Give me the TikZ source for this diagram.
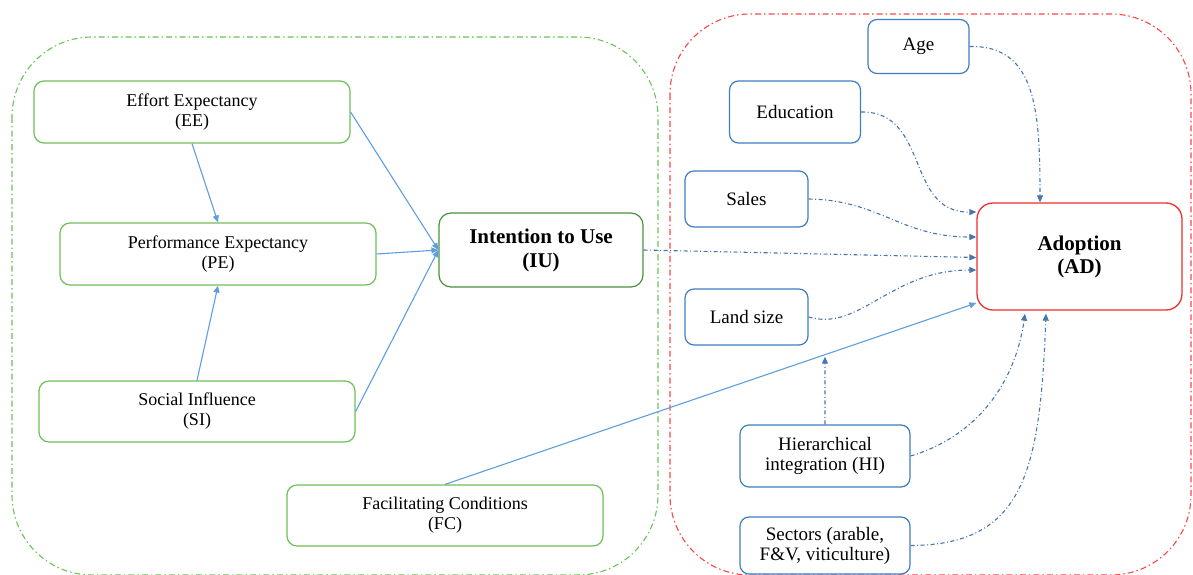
\documentclass[tikz,border=0pt]{standalone}
\usepackage{fontspec}
\setmainfont{Liberation Serif}
\usetikzlibrary{arrows.meta,calc}
\definecolor{grn}{RGB}{110,192,88}
\definecolor{dgrn}{RGB}{72,145,60}
\definecolor{blu}{RGB}{62,125,192}
\definecolor{lblu}{RGB}{95,158,222}
\definecolor{dblu}{RGB}{70,118,172}
\definecolor{rd}{RGB}{240,45,45}
\definecolor{grpg}{RGB}{105,195,85}
\definecolor{grpr}{RGB}{250,70,70}
\begin{document}
\begin{tikzpicture}[x=1pt,y=-1pt,
  txt/.style={align=center,inner sep=0pt,font=\fontsize{18}{20}\selectfont},
  gbox/.style={txt,draw=grn,line width=1.2pt,rounded corners=10pt,minimum width=316pt,minimum height=62pt},
  bbox/.style={txt,draw=blu,line width=1.2pt,rounded corners=9pt,font=\fontsize{19}{20}\selectfont},
  solidarr/.style={draw=lblu,line width=1.1pt,-{Triangle[length=7pt,width=6pt]}},
  dasharr/.style={draw=dblu,line width=1.1pt,dash pattern=on 4pt off 2.5pt on 1pt off 2.5pt,-{Triangle[length=7pt,width=6pt]}},
  grpline/.style={line width=1.1pt,dash pattern=on 6pt off 3pt on 1.5pt off 3pt,rounded corners=80pt}
]
\useasboundingbox (0,0) rectangle (1193,575);
% groups
\draw[grpline,draw=grpg] (12,37) rectangle (658,575);
\draw[grpline,draw=grpr] (670,14) rectangle (1191,575);
% left nodes
\node[gbox] (EE) at (192,112) {Effort Expectancy\\(EE)};
\node[gbox] (PE) at (218,254) {Performance Expectancy\\(PE)};
\node[gbox,minimum height=61pt] (SI) at (197,411.5) {Social Influence\\(SI)};
\node[gbox,minimum height=61pt] (FC) at (445,515.5) {Facilitating Conditions\\(FC)};
\node[txt,draw=dgrn,line width=1.2pt,rounded corners=12pt,minimum width=204pt,minimum height=74pt,
  font=\fontsize{21}{24}\selectfont\bfseries] (IU) at (541,250) {Intention to Use\\(IU)};
% right nodes
\node[bbox,minimum width=101pt,minimum height=54pt] (Age) at (918.5,46.5) {Age};
\node[bbox,minimum width=131pt,minimum height=62pt] (Edu) at (795,112) {Education};
\node[bbox,minimum width=123pt,minimum height=56pt] (Sales) at (746.5,199) {Sales};
\node[bbox,minimum width=123pt,minimum height=56pt] (Land) at (746.5,317) {Land size};
\node[bbox,minimum width=170pt,minimum height=62pt] (HI) at (825,456) {Hierarchical\\integration (HI)};
\node[bbox,minimum width=170pt,minimum height=57pt] (Sec) at (825,545.5) {Sectors (arable,\\F\&V, viticulture)};
\node[txt,draw=rd,line width=1.3pt,rounded corners=16pt,minimum width=205pt,minimum height=107pt,
  font=\fontsize{21}{23}\selectfont\bfseries] (AD) at (1079.5,256.5) {Adoption\\(AD)};
% target points on AD
\coordinate (adEdu) at ($(AD.west)+(0,-44.5)$);
\coordinate (adSales) at ($(AD.west)+(0,-19.5)$);
\coordinate (adIU) at ($(AD.west)+(0,1)$);
\coordinate (adLand) at ($(AD.west)+(0,13.5)$);
\coordinate (adFC) at ($(AD.west)+(0,46.5)$);
\coordinate (adAge) at ($(AD.north)+(-39.5,0)$);
\coordinate (adHI) at ($(AD.south)+(-54.5,3)$);
\coordinate (adSec) at ($(AD.south)+(-33.5,3)$);
\coordinate (hiup) at ($(HI.north)+(0,-200)$);
\coordinate (mod) at (intersection of FC.north--adFC and HI.north--hiup);
% solid connectors
\draw[solidarr] (EE.south) -- (PE.north);
\draw[solidarr] (SI.north) -- (PE.south);
\draw[solidarr] (EE.east) -- (IU.west);
\draw[solidarr] (PE.east) -- (IU.west);
\draw[solidarr] (SI.east) -- (IU.west);
\draw[solidarr] (FC.north) -- (adFC);
% dashed connectors
\draw[dasharr] (IU.east) -- (adIU);
\draw[dasharr] (Age.east) .. controls (1036,45) and (1040,110) .. (adAge);
\draw[dasharr] (Edu.east) .. controls (930,111) and (905,213) .. (adEdu);
\draw[dasharr] (Sales.east) .. controls (880,200) and (900,237) .. (adSales);
\draw[dasharr] (Land.east) .. controls (860,332) and (890,270) .. (adLand);
\draw[dasharr] (HI.east) .. controls (975,437) and (1015,385) .. (adHI);
\draw[dasharr] (Sec.east) .. controls (1025,545) and (1040,470) .. (adSec);
\draw[dasharr] (HI.north) -- ($(mod)+(0,2)$);
\end{tikzpicture}
\end{document}
